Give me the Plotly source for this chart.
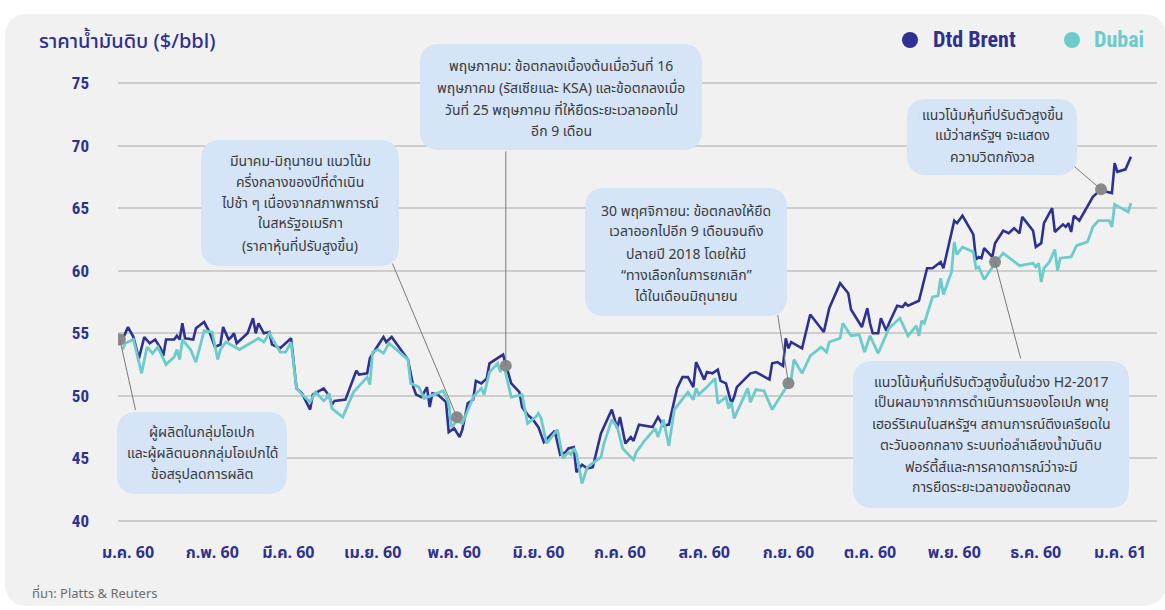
import pandas as pd
import plotly.graph_objects as go

# days counted from 1 Jan 2017, prices in $/bbl
brent_days = [-2, 0, 2, 4, 6, 8, 10, 12, 13, 14, 17, 18, 19, 20, 21, 24, 25, 28, 30, 32,
              34, 35, 37, 38, 39, 40, 44, 46, 47, 48, 50, 52, 53, 56, 60, 62, 64, 67, 68, 72,
              74, 75, 76, 80, 84, 85, 88, 89, 91, 94, 95, 97, 103, 105, 106, 108, 110, 111, 112, 114,
              117, 118, 120, 122, 123, 125, 127, 128, 130, 132, 133, 138, 139, 141, 144, 145, 147, 149, 151, 153,
              157, 159, 161, 162, 164, 165, 167, 169, 171, 173, 174, 178, 180, 181, 183, 185, 186, 188, 193, 195,
              197, 199, 201, 202, 204, 206, 208, 209, 212, 213, 215, 217, 218, 220, 222, 223, 224, 229, 231, 236,
              237, 239, 241, 242, 243, 244, 248, 251, 256, 258, 262, 265, 266, 270, 272, 273, 274, 276, 277, 279,
              280, 283, 285, 286, 287, 291, 294, 296, 299, 300, 304, 305, 307, 311, 312, 313, 314, 315, 318, 319,
              322, 324, 326, 328, 329, 333, 334, 336, 337, 340, 341, 344, 345, 346, 347, 348, 350, 355, 357, 358,
              360, 362, 363, 364, 367, 369]
brent_price = [54.5, 55.5, 54.7, 53.0, 54.7, 54.2, 54.5, 53.8, 53.2, 54.5, 54.5, 54.8, 54.5, 55.8, 54.6, 54.5, 55.4, 55.9, 55.1, 53.9,
               54.1, 55.5, 54.5, 54.7, 55.0, 54.2, 55.0, 56.2, 55.0, 55.8, 55.0, 55.1, 54.1, 53.8, 54.6, 50.6, 50.2, 48.9, 50.1, 50.6,
               50.0, 49.3, 49.6, 49.7, 52.0, 51.7, 51.8, 53.0, 53.7, 54.7, 54.3, 54.7, 52.9, 50.7, 50.1, 49.9, 50.7, 49.1, 50.2, 50.1,
               49.5, 47.1, 47.4, 46.7, 47.3, 49.4, 49.7, 51.2, 51.0, 51.4, 52.6, 53.3, 52.5, 51.0, 50.3, 49.1, 48.5, 48.1, 47.5, 46.3,
               47.2, 45.3, 45.5, 45.8, 45.9, 43.9, 44.5, 44.2, 44.3, 46.1, 47.0, 48.9, 47.4, 48.3, 46.2, 46.7, 46.4, 47.7, 47.5, 48.3,
               47.6, 47.7, 49.7, 50.6, 51.5, 51.5, 50.7, 52.7, 51.3, 51.9, 51.8, 52.1, 51.2, 51.0, 49.4, 49.9, 50.7, 51.8, 51.9, 51.3,
               52.6, 52.7, 52.4, 54.6, 53.8, 54.3, 53.8, 56.5, 55.1, 57.0, 59.0, 58.2, 56.9, 55.5, 57.0, 55.8, 55.0, 55.0, 56.2, 55.2,
               55.8, 57.2, 57.1, 57.4, 57.2, 57.6, 60.2, 60.2, 60.7, 60.2, 64.0, 63.8, 64.4, 62.9, 60.9, 61.1, 61.0, 61.8, 61.1, 62.2,
               63.2, 63.0, 63.4, 63.0, 64.3, 63.2, 61.9, 62.2, 63.8, 65.0, 63.1, 63.7, 63.5, 63.8, 63.1, 64.4, 64.0, 65.9, 66.3, 66.5,
               66.3, 66.2, 68.6, 67.9, 68.1, 69.1]

dubai_days = [-2, -1, 2, 5, 7, 9, 11, 14, 17, 18, 19, 20, 23, 25, 28, 31, 33, 34, 36, 41,
              45, 48, 50, 52, 56, 58, 60, 62, 65, 67, 69, 72, 73, 74, 75, 79, 83, 88, 89, 90,
              92, 94, 96, 103, 104, 107, 109, 116, 118, 119, 121, 123, 127, 130, 131, 133, 136, 137, 138, 141,
              145, 147, 150, 151, 152, 154, 158, 160, 162, 163, 164, 165, 167, 169, 174, 175, 178, 180, 182, 186,
              187, 190, 194, 195, 197, 199, 201, 206, 208, 209, 210, 213, 216, 217, 220, 221, 222, 223, 228, 229,
              231, 234, 237, 243, 244, 245, 248, 251, 255, 257, 258, 262, 263, 266, 269, 271, 273, 276, 280, 284,
              287, 290, 291, 292, 293, 296, 298, 299, 300, 303, 304, 305, 307, 311, 312, 313, 315, 319, 322, 328,
              333, 334, 335, 336, 337, 339, 341, 342, 343, 347, 349, 353, 355, 357, 361, 362, 363, 368, 369]
dubai_price = [53.7, 54.2, 54.5, 51.8, 53.9, 53.4, 53.9, 52.5, 53.1, 53.7, 52.9, 54.5, 53.7, 52.7, 55.2, 55.1, 52.9, 53.7, 54.3, 53.7,
               54.2, 54.6, 54.3, 55.0, 53.5, 53.5, 54.3, 50.6, 49.9, 49.5, 50.3, 49.6, 49.8, 50.2, 49.0, 48.3, 50.3, 51.5, 50.9, 53.5,
               53.7, 53.4, 54.2, 52.9, 51.0, 50.7, 49.8, 50.4, 49.4, 47.5, 48.0, 47.8, 49.9, 50.6, 50.1, 51.9, 52.6, 51.9, 52.7, 49.9,
               50.1, 47.8, 48.3, 48.6, 48.2, 46.2, 47.3, 45.0, 45.5, 45.3, 45.8, 45.4, 43.0, 44.3, 45.1, 46.1, 48.1, 47.5, 45.8, 44.9,
               45.5, 46.4, 47.4, 46.7, 48.1, 46.0, 48.9, 50.3, 49.7, 50.6, 50.1, 50.7, 51.4, 49.4, 49.9, 49.0, 49.5, 48.2, 50.6, 49.5,
               50.5, 50.4, 48.9, 50.9, 51.3, 52.9, 51.8, 53.2, 53.9, 53.5, 54.3, 54.6, 55.8, 54.8, 54.9, 53.5, 54.8, 53.4, 55.4, 56.2,
               54.8, 55.6, 54.8, 56.0, 55.8, 57.9, 58.0, 59.4, 58.1, 59.9, 62.3, 61.3, 61.9, 61.5, 60.2, 60.3, 59.3, 60.6, 61.4, 60.4,
               60.6, 60.3, 60.6, 59.1, 60.2, 60.7, 61.7, 60.0, 61.0, 61.1, 62.0, 62.3, 63.5, 64.0, 64.0, 63.5, 65.3, 64.7, 65.4]

# grey dots the call-outs point at
note_days = [-3, 121, 139, 243, 319, 358]
note_price = [54.5, 48.3, 52.4, 51.0, 60.7, 66.5]

month_labels = ["ม.ค. 60", "ก.พ. 60", "มี.ค. 60", "เม.ย. 60", "พ.ค. 60", "มิ.ย. 60", "ก.ค. 60",
                "ส.ค. 60", "ก.ย. 60", "ต.ค. 60", "พ.ย. 60", "ธ.ค. 60", "ม.ค. 61"]
y_ticks = [40, 45, 50, 55, 60, 65, 70, 75]

NAVY = "#2e3192"
TEAL = "#6ccbcb"
BOX = "#d5e4f6"
TEXT = "#3a3a3a"
THAI = "Noto Sans Thai, Noto Sans, sans-serif"
NARROW = "Liberation Sans Narrow, Arial Narrow, Roboto Condensed, sans-serif"

W, H = 1165, 610
L, R, T, B = 118, 8, 70, 80
PW, PH = W - L - R, H - T - B

base = pd.Timestamp("2017-01-01")


def to_date(days):
    return base + pd.to_timedelta(days, unit="D")


def px(x):
    return (x - L) / PW


def py(y):
    return (H - B - y) / PH


def rounded(x0, y0, x1, y1, r):
    pts = [
        ("M", x0 + r, y0), ("L", x1 - r, y0), ("Q", x1, y0, x1, y0 + r),
        ("L", x1, y1 - r), ("Q", x1, y1, x1 - r, y1), ("L", x0 + r, y1),
        ("Q", x0, y1, x0, y1 - r), ("L", x0, y0 + r), ("Q", x0, y0, x0 + r, y0),
    ]
    out = []
    for p in pts:
        cmd, vals = p[0], p[1:]
        coords = []
        for i in range(0, len(vals), 2):
            coords.append(f"{px(vals[i]):.5f},{py(vals[i + 1]):.5f}")
        out.append(cmd + " " + " ".join(coords))
    return " ".join(out) + " Z"


fig = go.Figure()
fig.add_trace(go.Scatter(x=to_date(brent_days), y=brent_price, mode="lines", name="Dtd Brent",
                         line=dict(color=NAVY, width=2.6)))
fig.add_trace(go.Scatter(x=to_date(dubai_days), y=dubai_price, mode="lines", name="Dubai",
                         line=dict(color=TEAL, width=2.8)))
fig.add_trace(go.Scatter(x=to_date(note_days), y=note_price, mode="markers",
                         marker=dict(color="#8a8a8a", size=12), hoverinfo="skip"))

# call-out boxes: pixel rectangle, text lines, centre y of each line, (dot index, ax, ay)
notes = [
    dict(box=(117, 412, 287, 494), lines=["ผู้ผลิตในกลุ่มโอเปก", "และผู้ผลิตนอกกลุ่มโอเปกได้", "ข้อสรุปลดการผลิต"],
         ys=[432, 453, 474], arrow=(0, 16, 72)),
    dict(box=(201, 140, 399, 266), lines=["มีนาคม-มิถุนายน แนวโน้ม", "ครึ่งกลางของปีที่ดำเนิน", "ไปช้า ๆ เนื่องจากสภาพการณ์",
                                          "ในสหรัฐอเมริกา", "(ราคาหุ้นที่ปรับสูงขึ้น)"],
         ys=[161, 182, 203, 224, 246], arrow=(1, -65, -155)),
    dict(box=(420, 44, 702, 150), lines=["พฤษภาคม: ข้อตกลงเบื้องต้นเมื่อวันที่ 16", "พฤษภาคม (รัสเซียและ KSA) และข้อตกลงเมื่อ",
                                         "วันที่ 25 พฤษภาคม ที่ให้ยืดระยะเวลาออกไป", "อีก 9 เดือน"],
         ys=[67, 88, 110, 131], arrow=(2, 0, -216)),
    dict(box=(585, 188, 787, 316), lines=["30 พฤศจิกายน: ข้อตกลงให้ยืด", "เวลาออกไปอีก 9 เดือนจนถึง", "ปลายปี 2018 โดยให้มี",
                                          "“ทางเลือกในการยกเลิก”", "ได้ในเดือนมิถุนายน"],
         ys=[211, 232, 254, 275, 296], arrow=(3, -11, -70)),
    dict(box=(853, 361, 1129, 508), lines=["แนวโน้มหุ้นที่ปรับตัวสูงขึ้นในช่วง H2-2017", "เป็นผลมาจากการดำเนินการของโอเปก พายุ",
                                           "เฮอร์ริเคนในสหรัฐฯ สถานการณ์ตึงเครียดใน", "ตะวันออกกลาง ระบบท่อลำเลียงน้ำมันดิบ",
                                           "ฟอร์ตี้ส์และการคาดการณ์ว่าจะมี", "การยืดระยะเวลาของข้อตกลง"],
         ys=[382, 403, 424, 445, 467, 487], arrow=(4, 26, 98)),
    dict(box=(907, 99, 1077, 175), lines=["แนวโน้มหุ้นที่ปรับตัวสูงขึ้น", "แม้ว่าสหรัฐฯ จะแสดง", "ความวิตกกังวล"],
         ys=[115, 136, 157], arrow=(5, -28, -24)),
]

shapes = [dict(type="path", path=rounded(5, 14, 1166, 606, 24), xref="paper", yref="paper",
               fillcolor="#f1f1f1", line=dict(width=0), layer="below")]
annotations = []
for n in notes:
    x0, y0, x1, y1 = n["box"]
    shapes.append(dict(type="path", path=rounded(x0, y0, x1, y1, 20), xref="paper", yref="paper",
                       fillcolor=BOX, line=dict(width=0), layer="above"))
    cx = px((x0 + x1) / 2)
    for line, yy in zip(n["lines"], n["ys"]):
        annotations.append(dict(text=line, x=cx, y=py(yy), xref="paper", yref="paper", showarrow=False,
                                xanchor="center", yanchor="middle", font=dict(family=THAI, size=14, color=TEXT)))
    i, ax, ay = n["arrow"]
    annotations.append(dict(text="", x=to_date(note_days[i]), y=note_price[i], xref="x", yref="y",
                            ax=ax, ay=ay, showarrow=True, arrowhead=0, arrowwidth=1, arrowcolor="#7a7a7a",
                            standoff=0, startstandoff=0))

# legend
for cx, cy, name, color, tx in [(910, 40, "Dtd Brent", NAVY, 931), (1072, 40, "Dubai", TEAL, 1092)]:
    shapes.append(dict(type="circle", xref="paper", yref="paper", x0=px(cx - 8), x1=px(cx + 8),
                       y0=py(cy + 8), y1=py(cy - 8), fillcolor=color, line=dict(width=0)))
    annotations.append(dict(text=f"<b>{name}</b>", x=px(tx), y=py(cy), xref="paper", yref="paper",
                            showarrow=False, xanchor="left", yanchor="middle",
                            font=dict(family=NARROW, size=22, color=color)))

annotations.append(dict(text="ราคาน้ำมันดิบ ($/bbl)", x=px(37), y=py(42), xref="paper", yref="paper",
                        showarrow=False, xanchor="left", yanchor="middle",
                        font=dict(family=THAI, size=20, color=NAVY, weight=500)))
annotations.append(dict(text="ที่มา: Platts & Reuters", x=px(30), y=py(594), xref="paper", yref="paper",
                        showarrow=False, xanchor="left", yanchor="middle",
                        font=dict(family=THAI, size=13, color="#6d6d6d")))

fig.update_layout(
    width=W, height=H, autosize=False,
    margin=dict(l=L, r=R, t=T, b=B),
    paper_bgcolor="white", plot_bgcolor="rgba(0,0,0,0)",
    showlegend=False, shapes=shapes, annotations=annotations,
    hovermode=False,
)
fig.update_xaxes(
    type="date",
    range=[base + pd.Timedelta(days=(L - 128) / 2.718), base + pd.Timedelta(days=(W - R - 128) / 2.718)],
    tickvals=pd.date_range("2017-01-01", "2018-01-01", freq="MS"), ticktext=month_labels,
    showgrid=False, zeroline=False, showline=False, ticks="",
    tickfont=dict(family=THAI, size=16, color=NAVY, weight="bold"), ticklabelstandoff=11,
)
fig.update_yaxes(
    range=[40 - (H - B - 521) / 12.51, 75 + (83 - T) / 12.51],
    tickvals=y_ticks, showgrid=True, gridcolor="#cdcdcd", gridwidth=1.5, zeroline=False,
    showline=False, ticks="", tickfont=dict(family=NARROW, size=17, color=NAVY, weight="bold"),
    ticklabelstandoff=28,
)

# the page's default 8px body margin would shift the chart off the reference frame
fig.write_html("out.html", config={"displayModeBar": False},
               post_script="document.body.style.margin='0';")
